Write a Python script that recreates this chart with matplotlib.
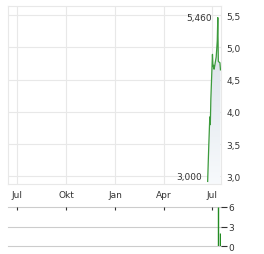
import numpy as np
import matplotlib
matplotlib.use("Agg")
from matplotlib import pyplot as plt
import matplotlib.dates as mdates
from datetime import datetime

# price series
dates = ["2024-06-22", "2024-06-24", "2024-06-26", "2024-06-27", "2024-06-28",
         "2024-07-01", "2024-07-02", "2024-07-03", "2024-07-04", "2024-07-05",
         "2024-07-08", "2024-07-10", "2024-07-11", "2024-07-12", "2024-07-15",
         "2024-07-16"]
prices = [2.92, 3.45, 3.92, 3.80, 4.20,
          4.89, 4.70, 4.72, 4.66, 4.70,
          4.85, 5.10, 5.46, 4.78, 4.76,
          4.65]

vol_dates = ["2024-07-11", "2024-07-16"]
volumes = [6.0, 2.0]

hi_label, hi_val, hi_date = "5,460", 5.46, "2024-07-11"
lo_label, lo_val, lo_date = "3,000", 3.0, "2024-06-22"

month_ticks = ["2023-07-01", "2023-10-01", "2024-01-01", "2024-04-01", "2024-07-01"]
month_labels = ["Jul", "Okt", "Jan", "Apr", "Jul"]
price_ticks = [3.0, 3.5, 4.0, 4.5, 5.0, 5.5]
vol_ticks = [0, 3, 6]

to_num = lambda ds: mdates.date2num([datetime.fromisoformat(d) for d in ds])
x = to_num(dates)
xv = to_num(vol_dates)
xt = to_num(month_ticks)
xlim = to_num(["2023-06-14", "2024-07-17"])

W, H = 264, 255
fig = plt.figure(figsize=(W / 100, H / 100), dpi=100)
plt.rcParams['font.family'] = ['DejaVu Sans']

grid_c = "#e8e8e8"
txt_c = "#333333"
green = "#3c9b3c"

ax = fig.add_axes([8 / W, 1 - 185 / H, 213 / W, 178 / H])
ax.set_xlim(*xlim)
ax.set_ylim(2.88, 5.64)
for s in ax.spines.values():
    s.set_color(grid_c)
ax.set_xticks(xt)
ax.set_xticklabels(month_labels)
ax.set_yticks(price_ticks)
ax.set_yticklabels([f"{v:.1f}".replace(".", ",") for v in price_ticks])
ax.yaxis.tick_right()
ax.tick_params(axis="both", length=0, labelsize=6.5, colors=txt_c)
ax.tick_params(axis="x", pad=4)
ax.tick_params(axis="y", pad=4)
ax.grid(True, color=grid_c, lw=0.8)
ax.set_axisbelow(True)

# gradient fill under the line
poly = ax.fill_between(x, prices, 2.88, color="none", lw=0)
grad = np.linspace(1, 0, 256).reshape(-1, 1)
top = np.array([0.84, 0.87, 0.90])
bot = np.array([0.97, 0.98, 0.99])
img = top * grad[..., None] + bot * (1 - grad[..., None])
im = ax.imshow(img, extent=[x.min(), x.max(), 2.88, max(prices)],
               aspect="auto", origin="upper", zorder=1)
im.set_clip_path(poly.get_paths()[0], transform=ax.transData)
ax.set_xlim(*xlim)
ax.set_ylim(2.88, 5.64)

ax.plot(x, prices, color=green, lw=0.9, zorder=3)

ax.annotate(hi_label, (to_num([hi_date])[0], hi_val), xytext=(-4, 0),
            textcoords="offset points", ha="right", va="center",
            fontsize=6.5, color=txt_c)
ax.annotate(lo_label, (to_num([lo_date])[0], lo_val), xytext=(-4, 0),
            textcoords="offset points", ha="right", va="center",
            fontsize=6.5, color=txt_c)

# volume panel
ax2 = fig.add_axes([8 / W, 1 - 247.3 / H, 213 / W, 39.6 / H])
ax2.set_xlim(*xlim)
ax2.set_ylim(0, 6)
for s in ax2.spines.values():
    s.set_visible(False)
for v in vol_ticks:
    ax2.axhline(v, color="#cccccc", lw=0.8, clip_on=False, zorder=0)
ax2.vlines(xv, 0, volumes, color="#228b22", lw=1.0, zorder=2)
ax2.set_xticks(xt)
ax2.tick_params(axis="x", top=True, bottom=False, labeltop=False, labelbottom=False,
                direction="in", length=2, width=0.8, color="#333333")
ax2.set_yticks(vol_ticks)
ax2.set_yticklabels([str(v) for v in vol_ticks])
ax2.yaxis.tick_right()
ax2.tick_params(axis="y", length=4, width=0.8, pad=1, labelsize=6.5,
                colors=txt_c)
ax2.patch.set_visible(False)

fig.savefig("out.png", dpi=100)
